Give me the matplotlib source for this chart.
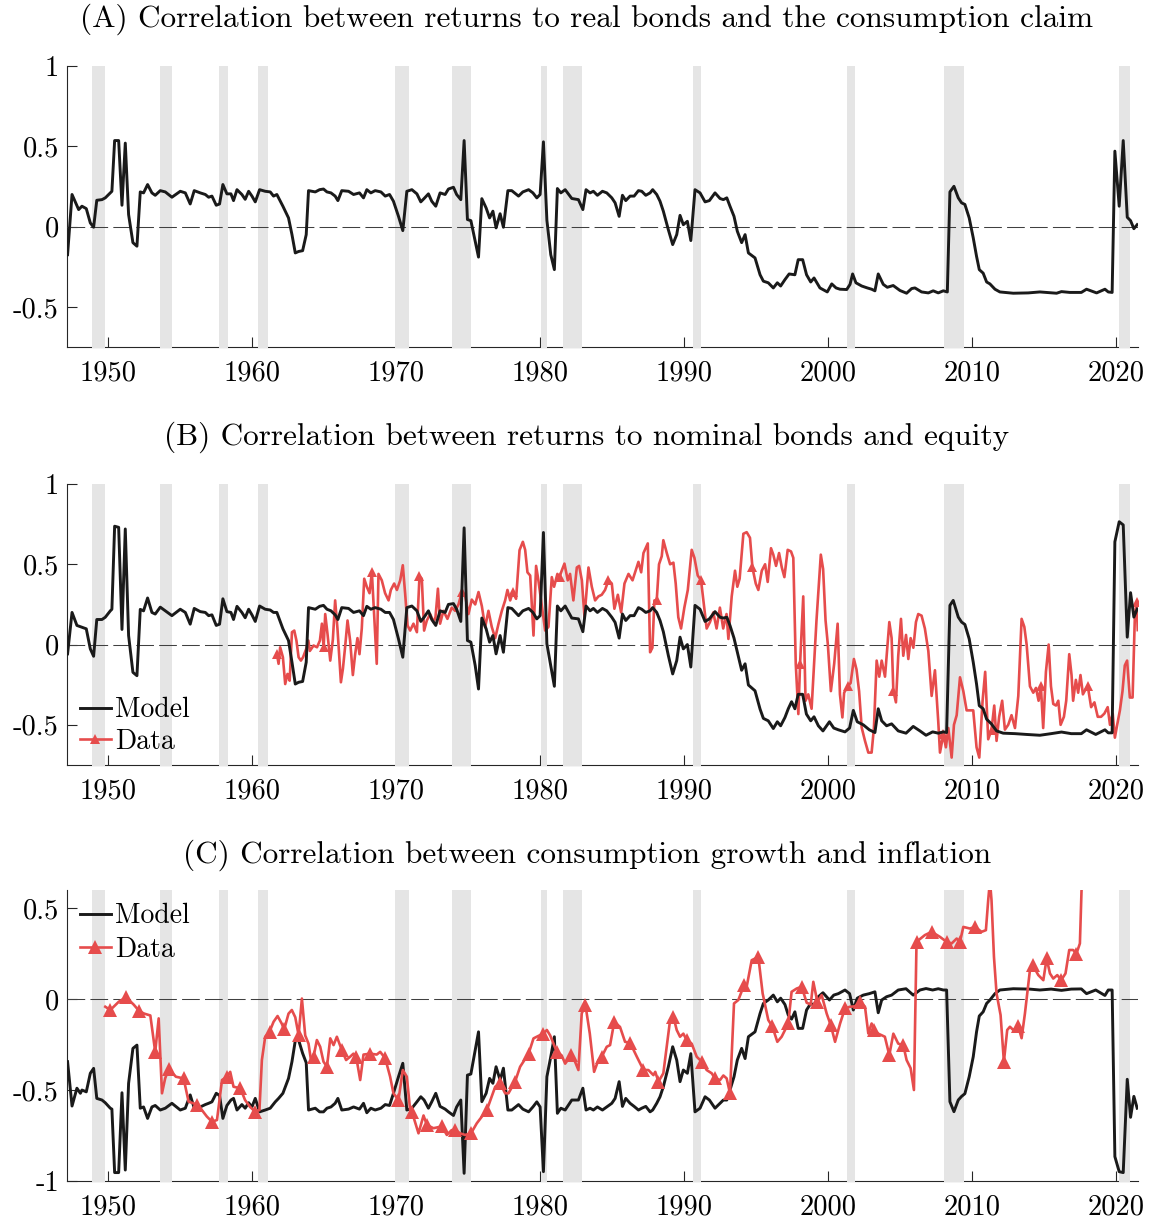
import matplotlib.pyplot as plt
from matplotlib.lines import Line2D
import numpy as np

plt.rcParams["font.family"] = ["cmr10", "DejaVu Serif"]
plt.rcParams["mathtext.fontset"] = "cm"
plt.rcParams["axes.unicode_minus"] = False

black = "#1a1a1a"
red = "#e64c4c"
shade = "#e5e5e5"
axis_grey = "#262626"

# NBER recession bands (decimal years)
recessions = [
    (1948.9, 1949.8), (1953.6, 1954.4), (1957.7, 1958.3), (1960.4, 1961.1),
    (1969.95, 1970.9), (1973.9, 1975.2), (1980.05, 1980.5), (1981.6, 1982.9),
    (1990.6, 1991.2), (2001.3, 2001.9), (2008.05, 2009.45), (2020.2, 2021.0),
]

# (A) model: corr(real bonds, consumption claim)
model_a = [
    (1947.17, -0.175), (1947.48, 0.20), (1947.94, 0.106), (1948.17, 0.127), (1948.47, 0.112),
    (1948.75, 0.023), (1948.98, -0.004), (1949.20, 0.164), (1949.56, 0.168), (1949.79, 0.179),
    (1950.14, 0.21), (1950.25, 0.22), (1950.44, 0.536), (1950.72, 0.536), (1950.95, 0.133),
    (1951.18, 0.52), (1951.41, 0.075), (1951.71, -0.10), (1951.99, -0.122), (1952.22, 0.216),
    (1952.45, 0.21), (1952.73, 0.262), (1953.03, 0.21), (1953.26, 0.195), (1953.61, 0.224),
    (1953.96, 0.216), (1954.42, 0.183), (1955.00, 0.22), (1955.35, 0.21), (1955.69, 0.141),
    (1955.97, 0.224), (1956.39, 0.21), (1956.74, 0.20), (1956.97, 0.183), (1957.20, 0.19),
    (1957.50, 0.133), (1957.73, 0.141), (1957.96, 0.262), (1958.24, 0.204), (1958.52, 0.204),
    (1958.70, 0.162), (1958.94, 0.23), (1959.28, 0.20), (1959.51, 0.17), (1959.75, 0.22),
    (1959.98, 0.19), (1960.21, 0.154), (1960.51, 0.23), (1960.90, 0.22), (1961.25, 0.216),
    (1961.48, 0.19), (1961.71, 0.20), (1962.13, 0.127), (1962.52, 0.054), (1962.76, -0.05),
    (1962.99, -0.164), (1963.22, -0.155), (1963.50, -0.15), (1963.75, -0.05), (1963.91, 0.224),
    (1964.38, 0.216), (1964.68, 0.23), (1964.95, 0.234), (1965.19, 0.216), (1965.47, 0.21),
    (1965.76, 0.19), (1965.95, 0.162), (1966.22, 0.224), (1966.69, 0.22), (1967.04, 0.20),
    (1967.45, 0.21), (1967.73, 0.179), (1967.96, 0.23), (1968.24, 0.21), (1968.54, 0.224),
    (1968.94, 0.216), (1969.24, 0.19), (1969.54, 0.20), (1969.81, 0.158), (1970.16, 0.064),
    (1970.46, -0.025), (1970.74, 0.22), (1971.09, 0.23), (1971.44, 0.204), (1971.71, 0.154),
    (1971.94, 0.175), (1972.24, 0.204), (1972.47, 0.158), (1972.75, 0.127), (1973.05, 0.21),
    (1973.40, 0.20), (1973.63, 0.234), (1973.98, 0.245), (1974.20, 0.20), (1974.49, 0.168),
    (1974.72, 0.536), (1974.95, 0.044), (1975.19, 0.037), (1975.49, -0.091), (1975.72, -0.19),
    (1975.95, 0.174), (1976.25, 0.116), (1976.49, 0.054), (1976.72, 0.096), (1976.94, -0.008),
    (1977.22, 0.08), (1977.45, -0.004), (1977.76, 0.224), (1978.03, 0.224), (1978.50, 0.19),
    (1978.80, 0.216), (1979.20, 0.23), (1979.50, 0.21), (1979.77, 0.179), (1980.00, 0.20),
    (1980.23, 0.528), (1980.47, 0.04), (1980.74, -0.175), (1980.99, -0.268), (1981.20, 0.237),
    (1981.44, 0.21), (1981.74, 0.23), (1982.20, 0.175), (1982.66, 0.168), (1982.97, 0.106),
    (1983.19, 0.23), (1983.47, 0.21), (1983.70, 0.22), (1983.98, 0.195), (1984.33, 0.22),
    (1984.63, 0.21), (1984.98, 0.179), (1985.21, 0.148), (1985.49, 0.064), (1985.72, 0.195),
    (1985.95, 0.162), (1986.25, 0.19), (1986.53, 0.19), (1986.83, 0.224), (1987.06, 0.22),
    (1987.34, 0.195), (1987.64, 0.21), (1987.82, 0.23), (1988.10, 0.20), (1988.33, 0.158),
    (1988.56, 0.096), (1988.91, -0.02), (1989.21, -0.112), (1989.49, -0.05), (1989.72, 0.07),
    (1989.95, 0.012), (1990.23, 0.033), (1990.47, -0.087), (1990.76, 0.23), (1991.11, 0.21),
    (1991.46, 0.154), (1991.76, 0.162), (1992.15, 0.21), (1992.50, 0.175), (1992.73, 0.168),
    (1992.97, 0.179), (1993.19, 0.127), (1993.47, 0.064), (1993.70, -0.029), (1994.00, -0.10),
    (1994.24, -0.05), (1994.47, -0.164), (1994.93, -0.195), (1995.28, -0.30), (1995.51, -0.34),
    (1995.85, -0.35), (1996.20, -0.382), (1996.48, -0.35), (1996.71, -0.37), (1997.01, -0.33),
    (1997.30, -0.295), (1997.70, -0.30), (1997.93, -0.206), (1998.24, -0.206), (1998.51, -0.30),
    (1998.80, -0.345), (1999.03, -0.32), (1999.44, -0.382), (1999.95, -0.407), (2000.26, -0.357),
    (2000.56, -0.382), (2000.83, -0.39), (2001.30, -0.392), (2001.53, -0.36), (2001.71, -0.295),
    (2001.94, -0.35), (2002.34, -0.37), (2002.73, -0.382), (2003.03, -0.39), (2003.26, -0.40),
    (2003.49, -0.295), (2003.84, -0.36), (2004.12, -0.378), (2004.53, -0.367), (2005.00, -0.398),
    (2005.46, -0.415), (2005.81, -0.386), (2006.04, -0.382), (2006.50, -0.407), (2006.97, -0.413),
    (2007.31, -0.40), (2007.66, -0.413), (2008.01, -0.40), (2008.29, -0.407), (2008.47, 0.216),
    (2008.75, 0.251), (2009.05, 0.179), (2009.28, 0.148), (2009.51, 0.138), (2009.81, 0.054),
    (2010.09, -0.07), (2010.32, -0.185), (2010.51, -0.268), (2010.78, -0.29), (2011.02, -0.345),
    (2011.25, -0.357), (2011.60, -0.39), (2011.94, -0.407), (2012.87, -0.415), (2013.91, -0.413),
    (2014.72, -0.407), (2015.88, -0.415), (2016.22, -0.405), (2016.80, -0.41), (2017.60, -0.41),
    (2017.96, -0.39), (2018.66, -0.413), (2019.24, -0.39), (2019.47, -0.407), (2019.74, -0.41),
    (2019.93, 0.47), (2020.23, 0.127), (2020.51, 0.536), (2020.79, 0.058), (2021.02, 0.037),
    (2021.25, -0.013), (2021.48, 0.012),
]

# (B) model: corr(nominal bonds, equity)
model_b = [
    (1947.17, -0.058), (1947.48, 0.20), (1947.82, 0.119), (1948.17, 0.108), (1948.47, 0.098),
    (1948.75, -0.027), (1948.98, -0.073), (1949.20, 0.156), (1949.56, 0.156), (1949.79, 0.17),
    (1950.14, 0.21), (1950.25, 0.22), (1950.44, 0.737), (1950.72, 0.73), (1950.95, 0.094),
    (1951.18, 0.72), (1951.41, 0.056), (1951.71, -0.173), (1951.99, -0.194), (1952.22, 0.219),
    (1952.45, 0.21), (1952.73, 0.29), (1953.03, 0.20), (1953.26, 0.19), (1953.61, 0.233),
    (1953.96, 0.21), (1954.42, 0.18), (1955.00, 0.22), (1955.35, 0.20), (1955.69, 0.127),
    (1955.97, 0.225), (1956.39, 0.205), (1956.74, 0.20), (1956.97, 0.18), (1957.20, 0.185),
    (1957.50, 0.119), (1957.73, 0.127), (1957.96, 0.285), (1958.24, 0.205), (1958.52, 0.20),
    (1958.70, 0.156), (1958.94, 0.238), (1959.28, 0.20), (1959.51, 0.167), (1959.75, 0.22),
    (1959.98, 0.185), (1960.21, 0.144), (1960.51, 0.24), (1960.90, 0.22), (1961.25, 0.215),
    (1961.48, 0.20), (1961.71, 0.20), (1962.13, 0.098), (1962.52, 0.025), (1962.76, -0.11),
    (1962.99, -0.246), (1963.22, -0.235), (1963.50, -0.23), (1963.75, -0.11), (1963.91, 0.23),
    (1964.38, 0.22), (1964.68, 0.238), (1964.95, 0.244), (1965.19, 0.22), (1965.47, 0.21),
    (1965.76, 0.185), (1965.95, 0.156), (1966.22, 0.23), (1966.69, 0.225), (1967.04, 0.20),
    (1967.45, 0.21), (1967.73, 0.18), (1967.96, 0.238), (1968.24, 0.22), (1968.54, 0.23),
    (1968.94, 0.22), (1969.24, 0.20), (1969.54, 0.20), (1969.81, 0.156), (1970.16, 0.035),
    (1970.46, -0.079), (1970.74, 0.23), (1971.09, 0.24), (1971.44, 0.21), (1971.71, 0.144),
    (1971.94, 0.17), (1972.24, 0.21), (1972.47, 0.156), (1972.75, 0.119), (1973.05, 0.21),
    (1973.40, 0.20), (1973.63, 0.25), (1973.98, 0.255), (1974.20, 0.22), (1974.49, 0.144),
    (1974.72, 0.727), (1974.95, 0.025), (1975.19, 0.015), (1975.49, -0.131), (1975.72, -0.277),
    (1975.95, 0.165), (1976.25, 0.098), (1976.49, 0.015), (1976.72, 0.056), (1976.94, -0.058),
    (1977.22, 0.056), (1977.45, -0.048), (1977.76, 0.23), (1978.03, 0.225), (1978.50, 0.18),
    (1978.80, 0.21), (1979.20, 0.225), (1979.50, 0.20), (1979.77, 0.16), (1980.00, 0.18),
    (1980.23, 0.698), (1980.47, 0.005), (1980.74, -0.131), (1980.99, -0.26), (1981.20, 0.24),
    (1981.44, 0.21), (1981.74, 0.24), (1982.20, 0.165), (1982.66, 0.16), (1982.97, 0.08),
    (1983.19, 0.24), (1983.47, 0.21), (1983.70, 0.225), (1983.98, 0.20), (1984.33, 0.225),
    (1984.63, 0.21), (1984.98, 0.17), (1985.21, 0.138), (1985.49, 0.04), (1985.72, 0.19),
    (1985.95, 0.15), (1986.25, 0.18), (1986.53, 0.18), (1986.83, 0.23), (1987.06, 0.22),
    (1987.34, 0.20), (1987.64, 0.21), (1987.82, 0.23), (1988.10, 0.20), (1988.33, 0.15),
    (1988.56, 0.08), (1988.91, -0.069), (1989.21, -0.183), (1989.49, -0.10), (1989.72, 0.046),
    (1989.95, -0.027), (1990.23, 0.0), (1990.47, -0.14), (1990.76, 0.244), (1991.11, 0.22),
    (1991.46, 0.144), (1991.76, 0.16), (1992.15, 0.205), (1992.50, 0.17), (1992.73, 0.165),
    (1992.97, 0.17), (1993.19, 0.119), (1993.47, 0.04), (1993.70, -0.048), (1994.00, -0.16),
    (1994.24, -0.12), (1994.47, -0.252), (1994.93, -0.288), (1995.28, -0.402), (1995.51, -0.46),
    (1995.85, -0.475), (1996.20, -0.523), (1996.48, -0.481), (1996.71, -0.506), (1997.01, -0.454),
    (1997.24, -0.40), (1997.47, -0.356), (1997.70, -0.40), (1997.93, -0.31), (1998.24, -0.31),
    (1998.50, -0.433), (1998.80, -0.475), (1999.03, -0.45), (1999.33, -0.506), (1999.65, -0.538),
    (2000.10, -0.481), (2000.40, -0.52), (2000.72, -0.531), (2001.18, -0.544), (2001.50, -0.52),
    (2001.76, -0.41), (2002.03, -0.481), (2002.45, -0.50), (2002.87, -0.531), (2003.26, -0.548),
    (2003.49, -0.40), (2003.73, -0.475), (2004.07, -0.506), (2004.42, -0.494), (2004.88, -0.538),
    (2005.42, -0.552), (2005.92, -0.51), (2006.39, -0.538), (2006.81, -0.565), (2007.27, -0.544),
    (2007.66, -0.552), (2008.01, -0.544), (2008.24, -0.548), (2008.47, 0.244), (2008.70, 0.275),
    (2009.05, 0.171), (2009.28, 0.14), (2009.51, 0.125), (2009.81, 0.035), (2010.09, -0.11),
    (2010.32, -0.246), (2010.51, -0.381), (2010.78, -0.40), (2011.02, -0.465), (2011.35, -0.494),
    (2011.71, -0.538), (2012.17, -0.552), (2013.00, -0.555), (2013.80, -0.56), (2014.72, -0.565),
    (2015.50, -0.555), (2016.22, -0.545), (2016.90, -0.555), (2017.60, -0.555), (2017.96, -0.531),
    (2018.60, -0.56), (2019.24, -0.531), (2019.47, -0.55), (2019.74, -0.55), (2019.93, 0.64),
    (2020.23, 0.765), (2020.51, 0.745), (2020.79, 0.046), (2021.02, 0.323), (2021.25, 0.171),
    (2021.48, 0.221),
]

# (B) data: rolling corr(nominal bonds, equity)
data_b = [
    (1961.71, -0.058), (1961.83, -0.12), (1961.94, -0.017), (1962.13, -0.079), (1962.29, -0.246),
    (1962.45, -0.183), (1962.60, -0.225), (1962.76, 0.077), (1962.92, 0.087), (1963.07, 0.025),
    (1963.22, -0.079), (1963.38, -0.10), (1963.53, -0.079), (1963.75, -0.027), (1963.90, 0.025),
    (1964.00, -0.04), (1964.26, -0.006), (1964.50, -0.017), (1964.70, 0.025), (1964.84, 0.13),
    (1964.96, -0.017), (1965.07, 0.19), (1965.23, 0.065), (1965.42, -0.10), (1965.60, 0.03),
    (1965.76, 0.275), (1965.92, 0.10), (1966.16, -0.235), (1966.30, -0.15), (1966.45, -0.017),
    (1966.62, 0.15), (1966.80, 0.025), (1966.99, -0.19), (1967.15, -0.06), (1967.31, 0.04),
    (1967.45, -0.06), (1967.61, 0.10), (1967.78, 0.41), (1967.96, 0.36), (1968.15, 0.32),
    (1968.31, 0.452), (1968.48, 0.17), (1968.65, -0.12), (1968.77, 0.44), (1969.00, 0.40),
    (1969.23, 0.32), (1969.47, 0.275), (1969.63, 0.34), (1969.86, 0.38), (1970.05, 0.34),
    (1970.28, 0.40), (1970.46, 0.494), (1970.62, 0.32), (1970.79, 0.119), (1970.97, 0.087),
    (1971.20, 0.13), (1971.44, 0.077), (1971.62, 0.425), (1971.78, 0.41), (1971.94, 0.087),
    (1972.13, 0.15), (1972.36, 0.19), (1972.59, 0.14), (1972.73, 0.17), (1972.90, 0.348),
    (1973.05, 0.13), (1973.28, 0.21), (1973.56, 0.16), (1973.86, 0.23), (1974.10, 0.21),
    (1974.33, 0.25), (1974.56, 0.327), (1974.80, 0.30), (1975.02, 0.19), (1975.25, 0.28),
    (1975.49, 0.25), (1975.72, 0.327), (1975.95, 0.24), (1976.18, 0.108), (1976.41, 0.21),
    (1976.64, 0.11), (1976.88, 0.04), (1977.11, 0.13), (1977.34, 0.21), (1977.57, 0.275),
    (1977.73, 0.34), (1977.92, 0.275), (1978.10, 0.325), (1978.33, 0.285), (1978.57, 0.588),
    (1978.80, 0.64), (1978.96, 0.59), (1979.12, 0.45), (1979.31, 0.43), (1979.54, 0.056),
    (1979.72, 0.49), (1979.88, 0.40), (1980.12, 0.24), (1980.35, 0.087), (1980.58, 0.11),
    (1980.81, 0.42), (1980.97, 0.36), (1981.20, 0.44), (1981.35, 0.42), (1981.50, 0.46),
    (1981.69, 0.504), (1981.92, 0.40), (1982.08, 0.44), (1982.31, 0.275), (1982.55, 0.48),
    (1982.71, 0.49), (1982.90, 0.40), (1983.08, 0.17), (1983.36, 0.48), (1983.59, 0.36),
    (1983.82, 0.275), (1984.05, 0.30), (1984.28, 0.31), (1984.51, 0.34), (1984.75, 0.40),
    (1984.98, 0.38), (1985.16, 0.223), (1985.40, 0.31), (1985.63, 0.20), (1985.86, 0.38),
    (1986.14, 0.44), (1986.42, 0.40), (1986.60, 0.45), (1986.83, 0.515), (1987.02, 0.45),
    (1987.18, 0.57), (1987.48, 0.63), (1987.64, -0.048), (1987.80, -0.02), (1987.94, 0.275),
    (1988.10, 0.275), (1988.26, 0.50), (1988.45, 0.55), (1988.56, 0.65), (1988.80, 0.57),
    (1989.03, 0.50), (1989.26, 0.51), (1989.42, 0.38), (1989.60, 0.17), (1989.79, 0.10),
    (1990.02, 0.23), (1990.26, 0.34), (1990.53, 0.59), (1990.72, 0.54), (1990.95, 0.43),
    (1991.18, 0.40), (1991.57, 0.10), (1991.80, 0.14), (1992.03, 0.20), (1992.26, 0.10),
    (1992.49, 0.23), (1992.72, 0.10), (1992.95, 0.19), (1993.08, 0.035), (1993.31, 0.30),
    (1993.54, 0.46), (1993.70, 0.36), (1993.86, 0.41), (1994.12, 0.69), (1994.35, 0.70),
    (1994.58, 0.665), (1994.75, 0.48), (1994.98, 0.38), (1995.16, 0.34), (1995.40, 0.46),
    (1995.63, 0.50), (1995.81, 0.39), (1996.04, 0.60), (1996.20, 0.56), (1996.39, 0.49),
    (1996.60, 0.57), (1996.79, 0.48), (1996.97, 0.42), (1997.20, 0.59), (1997.43, 0.58),
    (1997.59, 0.54), (1997.76, -0.12), (1997.94, -0.433), (1998.06, -0.12), (1998.28, 0.30),
    (1998.44, -0.35), (1998.63, -0.31), (1998.86, -0.40), (1999.20, 0.15), (1999.50, 0.56),
    (1999.66, 0.47), (1999.83, 0.15), (1999.99, 0.0), (2000.20, -0.29), (2000.43, -0.12),
    (2000.67, 0.13), (2000.83, -0.31), (2001.00, -0.454), (2001.12, -0.30), (2001.41, -0.256),
    (2001.57, -0.24), (2001.80, -0.09), (2001.98, -0.155), (2002.16, -0.29), (2002.34, -0.517),
    (2002.57, -0.60), (2002.80, -0.673), (2003.03, -0.673), (2003.19, -0.52), (2003.38, -0.10),
    (2003.56, -0.20), (2003.73, -0.10), (2003.96, -0.20), (2004.26, 0.14), (2004.42, 0.04),
    (2004.54, -0.288), (2004.72, -0.36), (2004.88, -0.07), (2005.07, 0.16), (2005.23, -0.07),
    (2005.42, 0.06), (2005.58, -0.09), (2005.74, 0.04), (2005.93, -0.02), (2006.11, 0.14),
    (2006.27, 0.19), (2006.50, 0.18), (2006.73, 0.10), (2006.97, -0.04), (2007.20, -0.32),
    (2007.43, -0.16), (2007.66, -0.48), (2007.78, -0.673), (2008.01, -0.56), (2008.19, -0.64),
    (2008.36, -0.52), (2008.59, -0.704), (2008.75, -0.50), (2008.94, -0.44), (2009.17, -0.204),
    (2009.40, -0.29), (2009.63, -0.41), (2009.86, -0.41), (2010.09, -0.41), (2010.32, -0.64),
    (2010.51, -0.704), (2010.74, -0.35), (2010.92, -0.17), (2011.13, -0.59), (2011.36, -0.53),
    (2011.55, -0.38), (2011.71, -0.60), (2011.89, -0.45), (2012.10, -0.35), (2012.29, -0.53),
    (2012.52, -0.50), (2012.75, -0.44), (2012.99, -0.52), (2013.22, -0.32), (2013.45, 0.16),
    (2013.64, 0.11), (2013.80, 0.0), (2014.03, -0.26), (2014.26, -0.30), (2014.45, -0.27),
    (2014.63, -0.35), (2014.79, -0.26), (2014.95, -0.52), (2015.14, -0.17), (2015.33, 0.0),
    (2015.49, -0.26), (2015.65, -0.37), (2015.84, -0.38), (2016.00, -0.35), (2016.16, -0.50),
    (2016.39, -0.45), (2016.55, -0.35), (2016.76, -0.06), (2016.92, -0.19), (2017.03, -0.35),
    (2017.22, -0.22), (2017.38, -0.30), (2017.54, -0.19), (2017.71, -0.31), (2017.89, -0.28),
    (2018.05, -0.26), (2018.28, -0.39), (2018.51, -0.36), (2018.74, -0.45), (2018.97, -0.45),
    (2019.20, -0.43), (2019.43, -0.39), (2019.59, -0.50), (2019.78, -0.43), (2019.93, -0.58),
    (2020.09, -0.50), (2020.28, -0.41), (2020.46, -0.29), (2020.62, -0.13), (2020.78, -0.10),
    (2020.97, -0.33), (2021.16, -0.33), (2021.32, 0.18), (2021.44, 0.264), (2021.52, 0.09),
]
marks_b = [1961.71, 1964.96, 1968.31, 1971.62, 1974.56, 1978.10, 1981.35, 1984.75, 1988.10,
           1991.18, 1994.75, 1998.06, 2001.41, 2004.54, 2008.01, 2011.36, 2014.79, 2018.05,
           2021.44]

# (C) model: corr(consumption growth, inflation)
model_c = [
    (1947.17, -0.344), (1947.48, -0.588), (1947.82, -0.49), (1948.06, -0.518), (1948.17, -0.50),
    (1948.47, -0.51), (1948.75, -0.408), (1948.98, -0.381), (1949.20, -0.546), (1949.56, -0.555),
    (1949.79, -0.57), (1950.14, -0.60), (1950.25, -0.605), (1950.44, -0.954), (1950.72, -0.954),
    (1950.95, -0.515), (1951.18, -0.94), (1951.41, -0.463), (1951.71, -0.271), (1951.99, -0.253),
    (1952.22, -0.60), (1952.45, -0.593), (1952.73, -0.656), (1953.03, -0.593), (1953.26, -0.585),
    (1953.61, -0.61), (1953.96, -0.60), (1954.42, -0.573), (1955.00, -0.61), (1955.35, -0.60),
    (1955.69, -0.527), (1955.97, -0.60), (1956.39, -0.593), (1956.74, -0.58), (1956.97, -0.573),
    (1957.20, -0.565), (1957.50, -0.518), (1957.73, -0.53), (1957.96, -0.656), (1958.24, -0.585),
    (1958.52, -0.555), (1958.70, -0.546), (1958.94, -0.61), (1959.28, -0.58), (1959.51, -0.60),
    (1959.75, -0.57), (1959.98, -0.593), (1960.21, -0.546), (1960.51, -0.62), (1960.90, -0.61),
    (1961.25, -0.60), (1961.60, -0.565), (1961.83, -0.546), (1962.13, -0.518), (1962.52, -0.436),
    (1962.76, -0.344), (1962.99, -0.229), (1963.22, -0.225), (1963.50, -0.298), (1963.75, -0.35),
    (1963.91, -0.61), (1964.38, -0.60), (1964.68, -0.62), (1964.95, -0.62), (1965.19, -0.60),
    (1965.47, -0.593), (1965.76, -0.573), (1965.95, -0.546), (1966.22, -0.61), (1966.69, -0.605),
    (1967.04, -0.593), (1967.45, -0.605), (1967.73, -0.573), (1967.96, -0.625), (1968.24, -0.60),
    (1968.54, -0.61), (1968.94, -0.60), (1969.24, -0.58), (1969.54, -0.585), (1969.81, -0.518),
    (1970.16, -0.427), (1970.46, -0.353), (1970.74, -0.61), (1971.09, -0.60), (1971.44, -0.565),
    (1971.71, -0.537), (1971.94, -0.555), (1972.24, -0.60), (1972.47, -0.565), (1972.75, -0.518),
    (1973.05, -0.59), (1973.40, -0.605), (1973.63, -0.62), (1973.98, -0.64), (1974.20, -0.593),
    (1974.49, -0.555), (1974.72, -0.958), (1974.95, -0.418), (1975.19, -0.412), (1975.49, -0.28),
    (1975.72, -0.18), (1975.95, -0.564), (1976.25, -0.518), (1976.49, -0.436), (1976.72, -0.463),
    (1976.94, -0.372), (1977.22, -0.445), (1977.45, -0.38), (1977.76, -0.61), (1978.03, -0.61),
    (1978.50, -0.58), (1978.80, -0.605), (1979.20, -0.62), (1979.50, -0.593), (1979.77, -0.565),
    (1980.00, -0.593), (1980.23, -0.949), (1980.47, -0.427), (1980.74, -0.317), (1980.99, -0.207),
    (1981.20, -0.628), (1981.44, -0.60), (1981.74, -0.61), (1982.20, -0.555), (1982.66, -0.555),
    (1982.97, -0.49), (1983.19, -0.61), (1983.47, -0.60), (1983.70, -0.61), (1983.98, -0.593),
    (1984.33, -0.61), (1984.63, -0.593), (1984.98, -0.573), (1985.21, -0.546), (1985.49, -0.454),
    (1985.72, -0.59), (1985.95, -0.546), (1986.25, -0.573), (1986.53, -0.59), (1986.83, -0.61),
    (1987.06, -0.60), (1987.34, -0.59), (1987.64, -0.62), (1987.82, -0.61), (1988.10, -0.573),
    (1988.33, -0.537), (1988.56, -0.482), (1988.91, -0.372), (1989.21, -0.262), (1989.49, -0.335),
    (1989.72, -0.454), (1989.95, -0.39), (1990.23, -0.408), (1990.47, -0.30), (1990.76, -0.62),
    (1991.11, -0.60), (1991.46, -0.537), (1991.76, -0.555), (1992.15, -0.60), (1992.50, -0.573),
    (1992.73, -0.555), (1992.97, -0.555), (1993.19, -0.50), (1993.47, -0.427), (1993.70, -0.335),
    (1994.00, -0.271), (1994.24, -0.327), (1994.47, -0.207), (1994.93, -0.18), (1995.28, -0.079),
    (1995.51, -0.024), (1995.85, -0.005), (1996.20, 0.022), (1996.48, -0.015), (1996.71, 0.005),
    (1997.01, -0.03), (1997.24, -0.088), (1997.47, -0.11), (1997.70, -0.07), (1997.93, -0.161),
    (1998.24, -0.161), (1998.51, -0.06), (1998.80, -0.024), (1999.03, -0.033), (1999.33, 0.013),
    (1999.65, 0.035), (2000.10, -0.005), (2000.40, 0.022), (2000.72, 0.03), (2001.18, 0.05),
    (2001.50, 0.03), (2001.76, -0.06), (2002.03, 0.005), (2002.45, 0.022), (2002.87, 0.03),
    (2003.26, 0.04), (2003.49, -0.075), (2003.73, -0.005), (2004.07, 0.013), (2004.42, 0.022),
    (2004.88, 0.05), (2005.42, 0.057), (2005.92, 0.022), (2006.39, 0.05), (2006.81, 0.058),
    (2007.27, 0.05), (2007.66, 0.057), (2008.01, 0.05), (2008.24, 0.05), (2008.47, -0.564),
    (2008.75, -0.619), (2009.05, -0.555), (2009.28, -0.535), (2009.51, -0.52), (2009.81, -0.427),
    (2010.09, -0.317), (2010.32, -0.18), (2010.51, -0.093), (2010.78, -0.07), (2011.02, -0.024),
    (2011.25, -0.005), (2011.60, 0.03), (2011.94, 0.05), (2012.87, 0.057), (2014.00, 0.055),
    (2014.72, 0.05), (2015.50, 0.055), (2016.22, 0.048), (2016.90, 0.055), (2017.60, 0.056),
    (2017.96, 0.03), (2018.60, 0.05), (2019.24, 0.02), (2019.47, 0.05), (2019.74, 0.05),
    (2019.93, -0.866), (2020.23, -0.949), (2020.51, -0.954), (2020.79, -0.441), (2021.02, -0.65),
    (2021.25, -0.535), (2021.48, -0.60),
]

# (C) data: rolling corr(consumption growth, inflation)
data_c = [
    (1949.79, -0.042), (1950.14, -0.06), (1950.72, -0.015), (1951.23, 0.01), (1951.76, -0.03),
    (1952.15, -0.066), (1952.50, -0.08), (1952.92, -0.09), (1953.26, -0.29), (1953.50, -0.106),
    (1953.73, -0.518), (1953.95, -0.436), (1954.19, -0.386), (1954.70, -0.427), (1955.23, -0.436),
    (1955.58, -0.564), (1956.16, -0.58), (1956.50, -0.61), (1956.85, -0.646), (1957.20, -0.674),
    (1957.55, -0.665), (1957.90, -0.445), (1958.24, -0.427), (1958.47, -0.40), (1958.70, -0.482),
    (1959.17, -0.49), (1959.50, -0.555), (1959.85, -0.593), (1960.21, -0.619), (1960.50, -0.61),
    (1960.67, -0.335), (1960.90, -0.207), (1961.20, -0.18), (1961.48, -0.125), (1961.76, -0.093),
    (1962.05, -0.135), (1962.22, -0.167), (1962.52, -0.08), (1962.75, -0.06), (1962.99, -0.10),
    (1963.22, -0.198), (1963.45, 0.003), (1963.68, -0.20), (1963.91, -0.245), (1964.08, -0.335),
    (1964.26, -0.317), (1964.49, -0.225), (1964.72, -0.262), (1964.95, -0.344), (1965.19, -0.372),
    (1965.42, -0.216), (1965.65, -0.253), (1965.88, -0.207), (1966.22, -0.28), (1966.52, -0.335),
    (1966.80, -0.317), (1967.03, -0.30), (1967.22, -0.317), (1967.50, -0.445), (1967.73, -0.305),
    (1968.19, -0.30), (1968.65, -0.305), (1968.89, -0.29), (1969.24, -0.326), (1969.58, -0.427),
    (1969.81, -0.518), (1970.16, -0.555), (1970.46, -0.39), (1970.74, -0.427), (1970.97, -0.61),
    (1971.09, -0.619), (1971.55, -0.738), (1971.90, -0.64), (1972.13, -0.692), (1972.59, -0.71),
    (1973.17, -0.70), (1973.52, -0.747), (1973.86, -0.72), (1974.10, -0.72), (1974.44, -0.738),
    (1974.79, -0.747), (1975.20, -0.738), (1975.60, -0.683), (1976.30, -0.61), (1976.88, -0.482),
    (1977.22, -0.463), (1977.57, -0.518), (1977.80, -0.518), (1978.26, -0.454), (1978.61, -0.372),
    (1979.20, -0.30), (1979.54, -0.216), (1980.20, -0.19), (1980.47, -0.17), (1980.70, -0.20),
    (1981.16, -0.29), (1981.50, -0.31), (1981.74, -0.355), (1982.15, -0.31), (1982.43, -0.345),
    (1982.66, -0.39), (1982.89, -0.079), (1983.15, -0.033), (1983.45, -0.189), (1983.75, -0.40),
    (1984.05, -0.335), (1984.28, -0.317), (1984.63, -0.262), (1984.86, -0.253), (1985.15, -0.125),
    (1985.55, -0.153), (1985.90, -0.235), (1986.25, -0.24), (1986.72, -0.317), (1987.18, -0.39),
    (1987.52, -0.39), (1987.87, -0.418), (1988.00, -0.40), (1988.22, -0.454), (1988.56, -0.408),
    (1989.03, -0.115), (1989.26, -0.097), (1989.49, -0.17), (1989.72, -0.207), (1989.95, -0.19),
    (1990.18, -0.225), (1990.53, -0.245), (1990.88, -0.317), (1991.23, -0.344), (1991.57, -0.39),
    (1991.92, -0.408), (1992.15, -0.436), (1992.50, -0.445), (1992.73, -0.42), (1992.96, -0.436),
    (1993.19, -0.518), (1993.47, -0.024), (1993.77, -0.005), (1994.17, 0.077), (1994.35, 0.068),
    (1994.70, 0.214), (1995.16, 0.232), (1995.46, 0.031), (1995.85, -0.115), (1996.13, -0.15),
    (1996.48, -0.235), (1996.78, -0.207), (1996.95, -0.18), (1997.24, -0.134), (1997.47, 0.04),
    (1997.82, 0.058), (1998.17, 0.068), (1998.52, -0.02), (1998.80, -0.03), (1998.98, 0.095),
    (1999.26, -0.015), (1999.56, 0.022), (1999.91, -0.08), (2000.19, -0.143), (2000.49, -0.235),
    (2000.84, -0.134), (2001.18, -0.051), (2001.53, -0.042), (2001.87, -0.04), (2002.22, -0.015),
    (2002.57, -0.042), (2002.80, -0.189), (2003.03, -0.134), (2003.21, -0.17), (2003.49, -0.19),
    (2003.95, -0.207), (2004.26, -0.308), (2004.54, -0.19), (2004.88, -0.245), (2005.23, -0.253),
    (2005.46, -0.335), (2005.74, -0.38), (2005.97, -0.50), (2006.15, 0.315), (2006.73, 0.352),
    (2007.20, 0.37), (2007.78, 0.342), (2008.24, 0.315), (2008.59, 0.306), (2008.94, 0.333),
    (2009.17, 0.315), (2009.40, 0.397), (2009.86, 0.388), (2010.21, 0.397), (2010.67, 0.37),
    (2010.97, 0.379), (2011.13, 0.544), (2011.25, 0.65), (2011.36, 0.544), (2011.53, 0.232),
    (2011.71, 0.031), (2011.99, -0.088), (2012.22, -0.344), (2012.45, -0.17), (2012.64, -0.152),
    (2012.87, -0.17), (2013.22, -0.15), (2013.45, -0.215), (2013.68, -0.08), (2014.03, 0.16),
    (2014.22, 0.187), (2014.61, 0.132), (2014.96, 0.104), (2015.19, 0.224), (2015.42, 0.141),
    (2015.65, 0.113), (2015.93, 0.132), (2016.20, 0.104), (2016.50, 0.141), (2016.76, 0.27),
    (2017.03, 0.27), (2017.26, 0.25), (2017.50, 0.306), (2017.61, 0.59), (2017.70, 0.75),
]
marks_c = [y + 0.2 for y in range(1950, 2018)]

titles = [
    "(A) Correlation between returns to real bonds and the consumption claim",
    "(B) Correlation between returns to nominal bonds and equity",
    "(C) Correlation between consumption growth and inflation",
]


def xy(series):
    arr = np.array(series)
    return arr[:, 0], arr[:, 1]


def mark_index(x, years):
    return sorted({int(np.argmin(np.abs(x - t))) for t in years})


def style_axes(ax, ylim, yticks, yticklabels):
    ax.set_xlim(1947.15, 2021.55)
    ax.set_ylim(*ylim)
    ax.set_xticks(np.arange(1950, 2021, 10))
    ax.set_yticks(yticks)
    ax.set_yticklabels(yticklabels)
    ax.spines["top"].set_visible(False)
    ax.spines["right"].set_visible(False)
    for side in ["left", "bottom"]:
        ax.spines[side].set_color(axis_grey)
        ax.spines[side].set_linewidth(0.8)
    ax.tick_params(direction="in", length=7, width=0.8, color=axis_grey,
                   labelcolor="black", labelsize=20.5)
    ax.tick_params(axis="y", pad=6)
    ax.tick_params(axis="x", pad=9.5)
    for start, end in recessions:
        ax.axvspan(start, end, ymin=-0.004, ymax=1, color=shade, lw=0,
                   zorder=2.6, clip_on=False)
    ax.axhline(0, color="#404040", lw=0.75, ls=(0, (17, 5)), zorder=2.7)


fig = plt.figure(figsize=(11.54, 12.21), dpi=100)
left, width = 0.0583, 0.928
ax_a = fig.add_axes([left, 0.7158, width, 0.2301])
ax_b = fig.add_axes([left, 0.3735, width, 0.2301])
ax_c = fig.add_axes([left, 0.0328, width, 0.2383])

ticks_ab = [-0.5, 0, 0.5, 1]
labels_ab = ["-0.5", "0", "0.5", "1"]
style_axes(ax_a, (-0.75, 1), ticks_ab, labels_ab)
style_axes(ax_b, (-0.75, 1), ticks_ab, labels_ab)
style_axes(ax_c, (-1, 0.6), [-1, -0.5, 0, 0.5], ["-1", "-0.5", "0", "0.5"])

lw_model = 2.1
lw_data = 1.9

# panel A
x, y = xy(model_a)
ax_a.plot(x, y, color=black, lw=lw_model, zorder=3)

# panel B
x, y = xy(data_b)
ax_b.plot(x, y, color=red, lw=lw_data, marker="^", ms=6.5, mew=0,
          markevery=mark_index(x, marks_b), zorder=3)
x, y = xy(model_b)
ax_b.plot(x, y, color=black, lw=lw_model, zorder=3.1)

# panel C
x, y = xy(model_c)
ax_c.plot(x, y, color=black, lw=lw_model, zorder=3)
x, y = xy(data_c)
ax_c.plot(x, y, color=red, lw=lw_data, marker="^", ms=10.5, mew=0,
          markevery=mark_index(x, marks_c), zorder=3.1)

for ax, ms, loc, anchor, spacing in [(ax_b, 6.5, "lower left", (0.012, 0.035), 0.2),
                                     (ax_c, 10.5, "upper left", (0.012, 0.955), 0.25)]:
    handles = [
        Line2D([], [], color=black, lw=lw_model),
        Line2D([], [], color=red, lw=lw_data, marker="^", ms=ms, mew=0),
    ]
    leg = ax.legend(handles, ["Model", "Data"], loc=loc, bbox_to_anchor=anchor,
                    frameon=False, fontsize=20, handlelength=1.1,
                    handletextpad=0.15, labelspacing=spacing, borderpad=0,
                    borderaxespad=0)
    leg.set_zorder(5)

for title, ypix in zip(titles, [19, 437, 855]):
    fig.text(587 / 1154, 1 - ypix / 1221, title, ha="center", va="center",
             fontsize=22.5)

fig.savefig("out.png", dpi=100)
